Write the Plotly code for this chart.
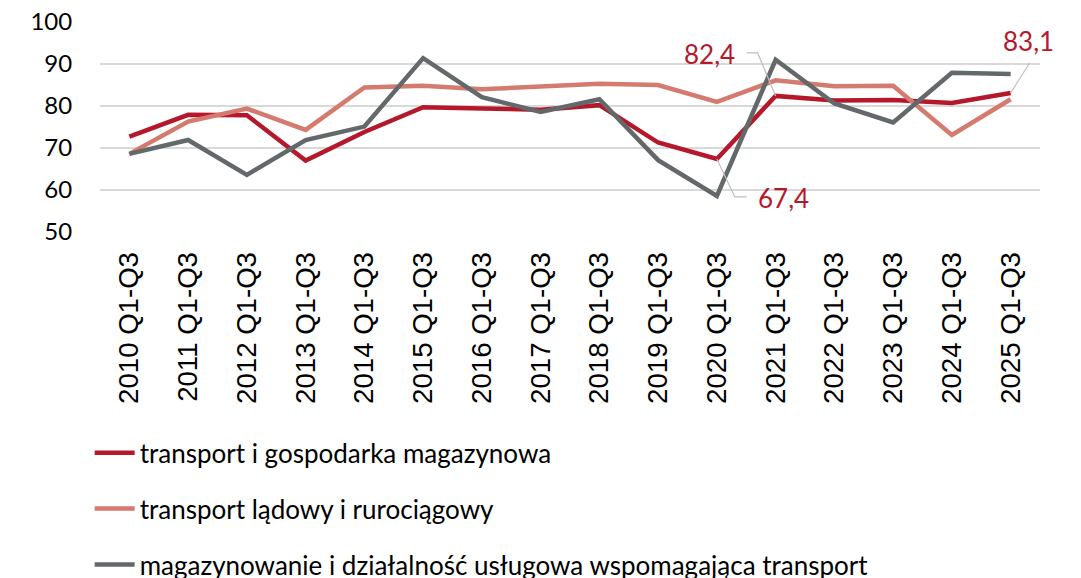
import plotly.graph_objects as go

categories = [f"{y} Q1-Q3" for y in range(2010, 2026)]
transport_gosp = [72.7, 77.9, 77.8, 67.0, 73.8, 79.7, 79.4, 79.1, 80.2, 71.3, 67.4, 82.4, 81.3, 81.4, 80.7, 83.1]
transport_ladowy = [68.6, 76.3, 79.4, 74.3, 84.4, 84.8, 84.0, 84.6, 85.3, 85.0, 81.0, 86.1, 84.7, 84.8, 73.1, 81.6]
magazynowanie = [68.6, 71.9, 63.6, 71.9, 75.1, 91.4, 82.1, 78.6, 81.6, 67.1, 58.6, 91.0, 80.6, 76.1, 87.9, 87.6]
names = ["transport i gospodarka magazynowa", "transport lądowy i rurociągowy",
         "magazynowanie i działalność usługowa wspomagająca transport"]
colors = ["#B5182B", "#D47A6E", "#63686A"]

FONT = "Lato"
fig = go.Figure()
for i, (vals, name, col) in enumerate(zip([transport_gosp, transport_ladowy, magazynowanie], names, colors)):
    fig.add_trace(go.Scatter(x=categories, y=vals, mode="lines", name=name,
                             line=dict(color=col, width=4.5), legendgroup=f"g{i}"))

# data labels with leader lines
labels = [(10, transport_gosp[10], "left", 39, -39, "M0,0 L18,-38 L30,-38"),
          (11, transport_gosp[11], "right", -39, 42, "M0,0 L-18,43 L-29,43"),
          (15, transport_gosp[15], "center", 18, 52, "M0,0 L19,30")]
for idx, val, anchor, xs, ys, path in labels:
    fig.add_annotation(x=categories[idx], y=val, text=f"{val:.1f}".replace(".", ","),
                       showarrow=False, xanchor=anchor, yanchor="middle", xshift=xs, yshift=ys,
                       font=dict(family=FONT, size=26, color="#B5182B"))
    fig.add_shape(type="path", xref="x", yref="y", xsizemode="pixel", ysizemode="pixel",
                  xanchor=categories[idx], yanchor=val, path=path,
                  line=dict(color="#BFBFBF", width=1.2))

fig.update_layout(
    width=1081, height=578, plot_bgcolor="white", paper_bgcolor="white",
    margin=dict(l=92, r=49, t=14, b=354, autoexpand=False),
    font=dict(family=FONT, size=24, color="#000000"),
    showlegend=True,
    legend=dict(orientation="v", x=-0.011, y=-0.94, xanchor="left", yanchor="top",
                tracegroupgap=19, font=dict(family=FONT, size=26), itemwidth=40,
                bgcolor="rgba(0,0,0,0)"),
    xaxis=dict(type="category", range=[-0.5, len(categories) - 0.5], tickangle=-90,
               showgrid=False, showline=False,
               ticks="outside", ticklen=8, tickcolor="rgba(0,0,0,0)",
               tickfont=dict(family="Liberation Sans", size=27.6), fixedrange=True,
               automargin=False, ticklabeloverflow="allow"),
    yaxis=dict(range=[50, 100], tickmode="array", tickvals=[50, 60, 70, 80, 90, 100],
               showgrid=True, gridcolor="#D9D9D9", gridwidth=1.5,
               zeroline=False, showline=False, ticks="outside", ticklen=22, tickcolor="rgba(0,0,0,0)",
               tickfont=dict(family=FONT, size=24), automargin=False, ticklabeloverflow="allow"),
)
fig.write_html("out.html")
